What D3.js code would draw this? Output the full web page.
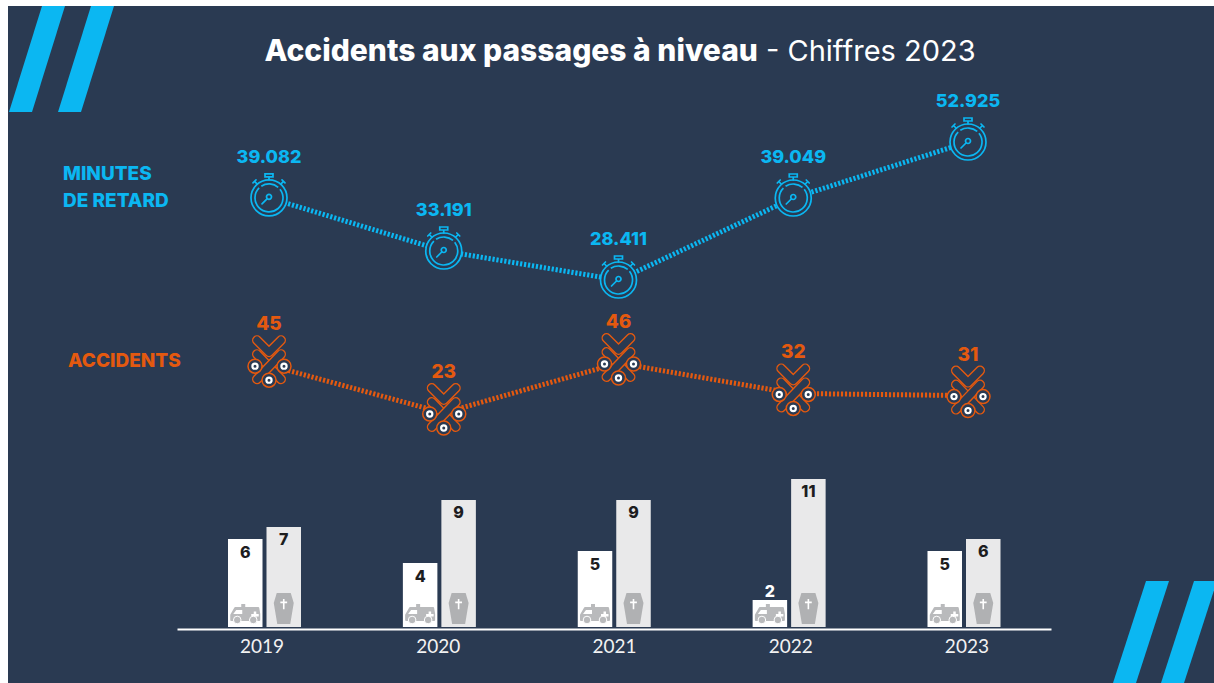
<!DOCTYPE html>
<html>
<head>
<meta charset="utf-8">
<script src="https://cdn.jsdelivr.net/npm/d3@7"></script>
<style>
  html, body { margin: 0; padding: 0; background: #fff; }
  svg { display: block; font-family: Inter, Lato, sans-serif; }
  .axis text { font-size: 19px; fill: #f2f2f2; font-family: Lato, sans-serif; }
  .axis .domain { stroke: #fff; stroke-width: 2; }
</style>
</head>
<body>
<div id="chart"></div>
<script>
const years = [2019, 2020, 2021, 2022, 2023];
const minutes = [39082, 33191, 28411, 39049, 52925];
const minuteLabels = ["39.082", "33.191", "28.411", "39.049", "52.925"];
const accidents = [45, 23, 46, 32, 31];
const injured = [6, 4, 5, 2, 5];
const dead = [7, 9, 9, 11, 6];

const W = 1214, H = 683;
const BG = "#2a3a52", BLUE = "#0bb7f2", ORANGE = "#e4590f";

const svg = d3.select("#chart").append("svg").attr("width", W).attr("height", H);
svg.append("rect").attr("x", 8).attr("y", 6).attr("width", W - 8).attr("height", H - 6).attr("fill", BG);

// corner slashes
const slash = (x, y0, y1) => `M${x},${y0}h23l-33,${y1 - y0}h-23z`;
svg.selectAll("path.slash")
  .data([slash(42, 6, 112), slash(91, 6, 112), slash(1146, 581, 683), slash(1194, 581, 683)])
  .enter().append("path").attr("class", "slash").attr("d", d => d).attr("fill", BLUE);

// title
const title = svg.append("text").attr("x", 620).attr("y", 61).attr("text-anchor", "middle")
  .attr("fill", "#fff");
title.append("tspan").attr("font-size", 30).attr("font-weight", 800).text("Accidents aux passages à niveau");
title.append("tspan").attr("font-size", 29).attr("font-weight", 400).text(" - Chiffres 2023");

// scales: the picture is an infographic, the line heights are not proportional
const xLine = d3.scalePoint().domain(years).range([269, 968]);
const yMin = d3.scaleLinear().domain([28411, 33191, 39049, 52925]).range([280, 251, 198, 142]);
const yAcc = d3.scaleLinear().domain([23, 46]).range([413, 363]);
const x = d3.scalePoint().domain(years).range([177, 1051]).padding(0.48);
const xBar = d3.scalePoint().domain(years).range([264.5, 964]);
const yBar = d3.scaleLinear().domain([2, 4, 7, 9, 11]).range([600, 563, 527, 500, 479]);
const base = 627, barW = 34.5, gap = 4;

// side labels
svg.selectAll("text.lab-min").data(["MINUTES", "DE RETARD"]).enter().append("text")
  .attr("class", "lab-min").attr("x", 63).attr("y", (d, i) => 180 + i * 27)
  .attr("fill", BLUE).attr("font-size", 19).attr("font-weight", 800).text(d => d);
svg.append("text").attr("x", 68).attr("y", 367).attr("fill", ORANGE)
  .attr("font-size", 19).attr("font-weight", 800).text("ACCIDENTS");

// minutes line
const lineMin = d3.line().x((d, i) => xLine(years[i])).y(d => yMin(d));
svg.append("path").attr("d", lineMin(minutes)).attr("fill", "none").attr("stroke", BLUE)
  .attr("stroke-width", 5).attr("stroke-dasharray", "2.2,1.8");

const watch = svg.selectAll("g.watch").data(minutes).enter().append("g").attr("class", "watch")
  .attr("transform", (d, i) => `translate(${xLine(years[i])},${yMin(d)})`)
  .attr("fill", "none").attr("stroke", BLUE).attr("stroke-width", 1.7).attr("stroke-linecap", "round");
watch.append("circle").attr("r", 18).attr("fill", BG);
watch.append("path").attr("d", d3.arc()({ innerRadius: 14, outerRadius: 14, startAngle: 0.9, endAngle: 5.5 }));
watch.append("path").attr("d", d3.arc()({ innerRadius: 14, outerRadius: 14, startAngle: 5.7, endAngle: 7.0 }));
watch.append("circle").attr("cy", -1).attr("r", 2.5);
watch.append("path").attr("d", "M-2,1L-7,6");
watch.append("path").attr("d", "M0,-18V-21M-4,-21h8v-3h-8zM-12,-14l-2,-2M-16,-15l3,-3M12,-14l2,-2M16,-15l-3,-3");

svg.selectAll("text.val-min").data(minuteLabels).enter().append("text").attr("class", "val-min")
  .attr("x", (d, i) => xLine(years[i])).attr("y", (d, i) => yMin(minutes[i]) - 35)
  .attr("text-anchor", "middle").attr("fill", BLUE).attr("font-size", 18).attr("font-weight", 800).text(d => d);

// accidents line
const lineAcc = d3.line().x((d, i) => xLine(years[i])).y(d => yAcc(d));
svg.append("path").attr("d", lineAcc(accidents)).attr("fill", "none").attr("stroke", ORANGE)
  .attr("stroke-width", 5).attr("stroke-dasharray", "2.2,1.8");

const cross = svg.selectAll("g.cross").data(accidents).enter().append("g").attr("class", "cross")
  .attr("transform", (d, i) => `translate(${xLine(years[i])},${yAcc(d)})`);
// X arms first, the chevron sits on top of them
const tubes = ["M-12,-11L12,14", "M12,-11L-12,14", "M-12,-25L0,-13L12,-25"];
tubes.forEach(t => {
  cross.append("path").attr("d", t).attr("fill", "none").attr("stroke", ORANGE)
    .attr("stroke-width", 10).attr("stroke-linecap", "round").attr("stroke-linejoin", "round");
  cross.append("path").attr("d", t).attr("fill", "none").attr("stroke", BG)
    .attr("stroke-width", 7.2).attr("stroke-linecap", "round").attr("stroke-linejoin", "round");
});
[[-14, 1], [15, 1], [0, 15]].forEach(([cx, cy]) => {
  cross.append("circle").attr("cx", cx).attr("cy", cy).attr("r", 7).attr("fill", BG).attr("stroke", ORANGE).attr("stroke-width", 1.5);
  cross.append("circle").attr("cx", cx).attr("cy", cy).attr("r", 2.6).attr("fill", BG).attr("stroke", "#fff").attr("stroke-width", 2.2);
});

svg.selectAll("text.val-acc").data(accidents).enter().append("text").attr("class", "val-acc")
  .attr("x", (d, i) => xLine(years[i])).attr("y", d => yAcc(d) - 35)
  .attr("text-anchor", "middle").attr("fill", ORANGE).attr("font-size", 19).attr("font-weight", 800).text(d => d);

// bars
const groups = svg.selectAll("g.year").data(years).enter().append("g").attr("class", "year")
  .attr("transform", d => `translate(${xBar(d)},0)`);
groups.append("rect").attr("x", -barW - gap / 2).attr("width", barW)
  .attr("y", (d, i) => yBar(injured[i])).attr("height", (d, i) => base - yBar(injured[i])).attr("fill", "#fff");
groups.append("rect").attr("x", gap / 2).attr("width", barW)
  .attr("y", (d, i) => yBar(dead[i])).attr("height", (d, i) => base - yBar(dead[i])).attr("fill", "#e9e9ea");

groups.append("text").attr("x", -barW / 2 - gap / 2)
  .attr("y", (d, i) => yBar(injured[i]) + (injured[i] < 3 ? -3 : 19))
  .attr("text-anchor", "middle").attr("font-size", 16).attr("font-weight", 800)
  .attr("fill", (d, i) => injured[i] < 3 ? "#fff" : "#1d1d1f").text((d, i) => injured[i]);
groups.append("text").attr("x", barW / 2 + gap / 2)
  .attr("y", (d, i) => yBar(dead[i]) + 18)
  .attr("text-anchor", "middle").attr("font-size", 16).attr("font-weight", 800)
  .attr("fill", "#1d1d1f").text((d, i) => dead[i]);

// ambulance
const amb = groups.append("g").attr("transform", `translate(${-barW / 2 - gap / 2},${base})`);
amb.append("path").attr("fill", "#b9babc").attr("stroke", "#b9babc").attr("stroke-width", 2).attr("stroke-linejoin", "round")
  .attr("d", "M-14,-7V-12L-10,-19H13L14,-13V-7Z");
amb.append("path").attr("fill", "#b9babc").attr("d", "M-4,-23h4v3h-4z");
amb.append("path").attr("fill", "#fff").attr("d", "M-12,-13L-9,-17H-3V-13ZM6,-13h2.5v-2.5h2.5v2.5h2.5v2.5h-2.5v2.5h-2.5v-2.5h-2.5z");
amb.selectAll("circle").data([-8, 8]).enter().append("circle").attr("cx", d => d).attr("cy", -7).attr("r", 3.8)
  .attr("fill", "#b9babc").attr("stroke", "#fff").attr("stroke-width", 1);

// coffin
const cof = groups.append("g").attr("transform", `translate(${barW / 2 + gap / 2},${base})`);
cof.append("path").attr("fill", "#b0b1b3").attr("d", "M-7,-34H7L10,-24L6.5,-3H-6.5L-10,-24Z");
cof.append("path").attr("fill", "#fff").attr("d", "M-0.8,-28h1.6v2.6h2.6v1.6h-2.6v6h-1.6v-6h-2.6v-1.6h2.6z");

// axis
svg.append("g").attr("class", "axis").attr("transform", `translate(0,${base + 2})`)
  .call(d3.axisBottom(x).tickSize(0).tickPadding(11).tickSizeOuter(0));
</script>
</body>
</html>
